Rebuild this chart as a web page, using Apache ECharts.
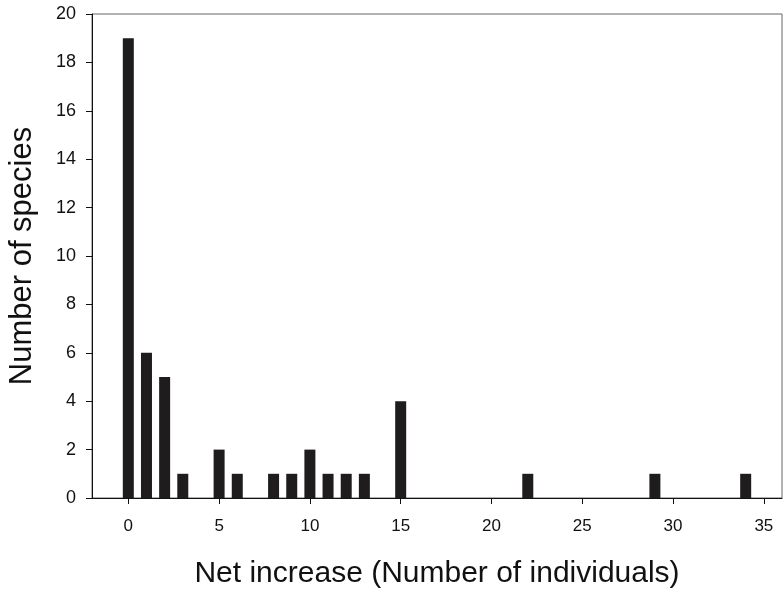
<!DOCTYPE html>
<html>
<head>
<meta charset="utf-8">
<script src="https://cdn.jsdelivr.net/npm/echarts@6/dist/echarts.min.js"></script>
<style>
  html, body { margin: 0; padding: 0; background: #fff; }
  #main { width: 784px; height: 592px; }
</style>
</head>
<body>
<div id="main"></div>
<script>
var netIncrease = [0, 1, 2, 3, 5, 6, 8, 9, 10, 11, 12, 13, 15, 22, 29, 34];
var speciesCount = [19, 6, 5, 1, 2, 1, 1, 1, 2, 1, 1, 1, 4, 1, 1, 1];
var xTicks = [0, 5, 10, 15, 20, 25, 30, 35];

var myChart = echarts.init(document.getElementById('main'));

var font = 'Liberation Sans, Arial, sans-serif';

var option = {
    backgroundColor: '#fff',
    animation: false,
    grid: {
        left: 92, right: 2, top: 14, bottom: 94,
        outerBoundsMode: 'none',
        containLabel: false,
        show: true,
        borderColor: '#666',
        borderWidth: 1
    },
    xAxis: {
        type: 'value',
        min: -2,
        max: 36,
        name: 'Net increase (Number of individuals)',
        nameLocation: 'middle',
        nameGap: 61,
        nameTextStyle: { fontFamily: font, fontSize: 30, color: '#111' },
        axisLine: { onZero: false, lineStyle: { color: '#111', width: 1 } },
        axisTick: { show: true, length: 6, customValues: xTicks, lineStyle: { color: '#111' } },
        axisLabel: { customValues: xTicks, fontFamily: font, fontSize: 17, color: '#111', margin: 20 },
        splitLine: { show: false }
    },
    yAxis: {
        type: 'value',
        min: 0,
        max: 20,
        interval: 2,
        name: 'Number of species',
        nameLocation: 'middle',
        nameGap: 54,
        nameTextStyle: { fontFamily: font, fontSize: 31, color: '#111' },
        axisLine: { show: true, onZero: false, lineStyle: { color: '#111', width: 1 } },
        axisTick: { show: true, length: 6, lineStyle: { color: '#111' } },
        axisLabel: { fontFamily: font, fontSize: 18, color: '#111', margin: 16 },
        splitLine: { show: false }
    },
    series: [
        {
            name: 'Species',
            type: 'bar',
            barWidth: 11,
            itemStyle: { color: '#1e1c1d' },
            data: netIncrease.map(function (x, i) { return [x, speciesCount[i]]; })
        }
    ]
};

myChart.setOption(option);
</script>
</body>
</html>
